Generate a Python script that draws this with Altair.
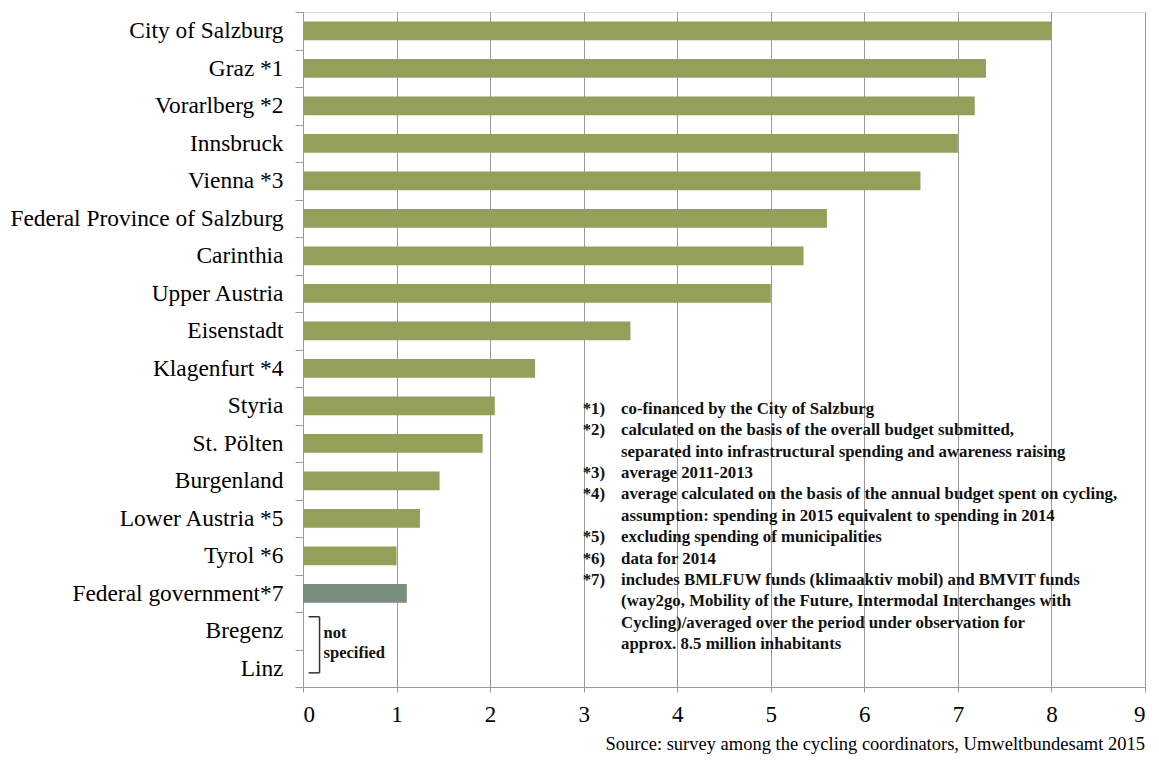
import altair as alt
import pandas as pd

categories = ["City of Salzburg", "Graz *1", "Vorarlberg *2", "Innsbruck", "Vienna *3",
              "Federal Province of Salzburg", "Carinthia", "Upper Austria", "Eisenstadt",
              "Klagenfurt *4", "Styria", "St. Pölten", "Burgenland", "Lower Austria *5",
              "Tyrol *6", "Federal government*7", "Bregenz", "Linz"]
values = [8.0, 7.3, 7.18, 7.0, 6.6, 5.6, 5.35, 5.0, 3.5, 2.48, 2.05, 1.92, 1.46, 1.25,
          1.0, 1.11, None, None]
groups = ["regional"] * 15 + ["federal"] + ["none", "none"]
x_ticks = list(range(10))

# footnote markers grouped by the line they start on
footnote_marks = [(0, ["*1)", "*2)"]), (3, ["*3)", "*4)"]), (6, ["*5)", "*6)", "*7)"])]
footnote_texts = [
    "co-financed by the City of Salzburg",
    "calculated on the basis of the overall budget submitted,",
    "separated into infrastructural spending and awareness raising",
    "average 2011-2013",
    "average calculated on the basis of the annual budget spent on cycling,",
    "assumption: spending in 2015 equivalent to spending in 2014",
    "excluding spending of municipalities",
    "data for 2014",
    "includes BMLFUW funds (klimaaktiv mobil) and BMVIT funds",
    "(way2go, Mobility of the Future, Intermodal Interchanges with",
    "Cycling)/averaged over the period under observation for",
    "approx. 8.5 million inhabitants",
]
not_specified = ["not", "specified"]
source = "Source: survey among the cycling coordinators, Umweltbundesamt 2015"

FONT = "Liberation Serif"
GREEN = "#94A05A"
FED = "#7A8E7D"
GRID = "#9a9a9a"
LINE_H = 21.4
FN_DY = 8

df = pd.DataFrame({"cat": categories, "value": values, "group": groups})
bars_df = df.dropna()

yscale = alt.Scale(domain=categories, paddingInner=0, paddingOuter=0)
xscale = alt.Scale(domain=[0, 9], nice=False, zero=True)

x_enc = alt.X("value:Q", scale=xscale, title=None,
              axis=alt.Axis(values=x_ticks, format="d", title=None, grid=True,
                            gridColor=GRID, gridWidth=1, domainColor=GRID,
                            tickColor=GRID, tickSize=5, labelFont=FONT,
                            labelFontSize=23, labelColor="black", labelPadding=11))
y_enc = alt.Y("cat:N", scale=yscale, title=None,
              axis=alt.Axis(title=None, tickBand="extent", tickSize=8, tickColor=GRID,
                            domainColor=GRID, labelPadding=12, labelFont=FONT,
                            labelFontSize=23.4, labelColor="black", labelLimit=500,
                            grid=False))

bars = alt.Chart(bars_df).mark_bar(height={"band": 0.5}).encode(
    x=x_enc,
    y=y_enc,
    color=alt.Color("group:N", scale=alt.Scale(domain=["regional", "federal"],
                                               range=[GREEN, FED]), legend=None),
)

fn_style = dict(align="left", baseline="alphabetic", lineBreak="\n", lineHeight=LINE_H,
                font=FONT, fontSize=16.8, fontWeight="bold", color="#111")

layers = [bars]
fn_df = pd.DataFrame({"cat": ["Styria"], "value": [3.40], "txt": ["\n".join(footnote_texts)]})
layers.append(alt.Chart(fn_df).mark_text(dy=FN_DY, **fn_style).encode(
    x=alt.X("value:Q", title=None), y=alt.Y("cat:N", title=None), text="txt:N"))
for start, marks in footnote_marks:
    mdf = pd.DataFrame({"cat": ["Styria"], "value": [2.99], "txt": ["\n".join(marks)]})
    layers.append(alt.Chart(mdf).mark_text(dy=FN_DY + start * LINE_H, **fn_style).encode(
        x=alt.X("value:Q", title=None), y=alt.Y("cat:N", title=None), text="txt:N"))

# bracket for "not specified"
br_h = pd.DataFrame({"cat": ["Bregenz"], "value": [0.06], "value2": [0.177]})
br_h2 = pd.DataFrame({"cat": ["Linz"], "value": [0.06], "value2": [0.177]})
br_v = pd.DataFrame({"cat": ["Bregenz"], "cat2": ["Linz"], "value": [0.177]})
layers.append(alt.Chart(br_h).mark_rule(color="#333", strokeWidth=1.5, yOffset=-14).encode(
    x=alt.X("value:Q", title=None), x2="value2:Q", y=alt.Y("cat:N", title=None)))
layers.append(alt.Chart(br_h2).mark_rule(color="#333", strokeWidth=1.5, yOffset=4.6).encode(
    x=alt.X("value:Q", title=None), x2="value2:Q", y=alt.Y("cat:N", title=None)))
layers.append(alt.Chart(br_v).mark_rule(color="#333", strokeWidth=1.5, yOffset=-14,
                                        y2Offset=4.6).encode(
    x=alt.X("value:Q", title=None), y=alt.Y("cat:N", title=None), y2="cat2:N"))

ns_df = pd.DataFrame({"cat": ["Bregenz"], "value": [0.22], "txt": ["\n".join(not_specified)]})
layers.append(alt.Chart(ns_df).mark_text(
    align="left", baseline="alphabetic", dy=7.7, lineBreak="\n", lineHeight=20,
    font=FONT, fontSize=16.5, fontWeight="bold", color="#111"
).encode(x=alt.X("value:Q", title=None), y=alt.Y("cat:N", title=None), text="txt:N"))

chart = alt.layer(*layers).properties(
    width=842, height=675,
    autosize=alt.AutoSizeParams(type="none"),
    padding={"left": 295, "top": 4, "right": 6, "bottom": 67},
    title=alt.TitleParams(source, orient="bottom", anchor="end", frame="group",
                          font=FONT, fontSize=18.5, fontWeight="normal", color="black",
                          offset=9),
).configure_view(stroke=None).configure(background="white")

chart.save("out.html", embed_options={"renderer": "svg", "actions": False})
